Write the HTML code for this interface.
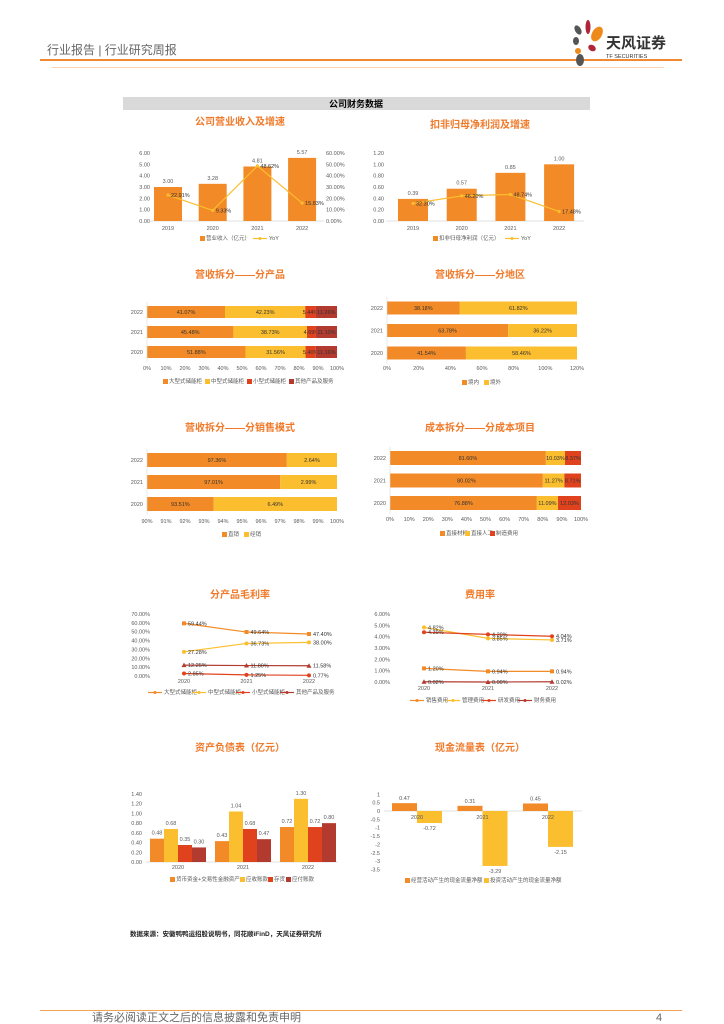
<!DOCTYPE html>
<html><head><meta charset="utf-8"><style>
html,body{margin:0;padding:0;background:#fff;}
svg{display:block;font-family:"Liberation Sans","Noto Sans CJK SC",sans-serif;}
</style></head><body>
<svg id="page" width="724" height="1024" viewBox="0 0 724 1024" xmlns="http://www.w3.org/2000/svg">
<g>
<text x="47" y="54" font-size="12" fill="#666">行业报告 | 行业研究周报</text>
<rect x="40" y="59" width="642" height="2" fill="#F08A30"/>
<rect x="52" y="67" width="612" height="0.8" fill="#FBC89A"/>
<g>
<ellipse cx="578" cy="30" rx="3" ry="5" fill="#555" transform="rotate(-30 578 30)"/>
<ellipse cx="588" cy="27" rx="2.5" ry="7" fill="#B0243A"/>
<ellipse cx="597" cy="34" rx="5" ry="8" fill="#EE8A1A" transform="rotate(30 597 34)"/>
<ellipse cx="576" cy="41" rx="3" ry="4" fill="#555"/>
<ellipse cx="578" cy="51" rx="3" ry="3" fill="#EE8A1A"/>
<ellipse cx="592" cy="48" rx="4" ry="3" fill="#B0243A" transform="rotate(30 592 48)"/>
<ellipse cx="580" cy="60" rx="4" ry="6" fill="#555"/>
<text x="606" y="48" font-size="15" font-weight="bold" fill="#333">天风证券</text>
<text x="606" y="58" font-size="5.5" fill="#333">TF SECURITIES</text>
</g></g>
<rect x="123" y="97" width="467" height="13" fill="#D9D9D9"/>
<text x="356" y="107" font-size="9" font-weight="bold" text-anchor="middle" fill="#000">公司财务数据</text>
<text x="130" y="936" font-size="6.5" font-weight="bold" fill="#222">数据来源：安徽鸭鸭运招股说明书，同花顺iFinD，天风证券研究所</text>
<rect x="40" y="1010" width="642" height="0.8" fill="#F08A30"/>
<text x="92" y="1021" font-size="11" fill="#666">请务必阅读正文之后的信息披露和免责申明</text>
<text x="656" y="1021" font-size="11" fill="#666">4</text>
</svg>
<script>
// ---- data ----
const revYears=['2019','2020','2021','2022'];
const revValues=[3.00,3.28,4.81,5.57];
const revYoy=[22.91,9.33,48.62,15.83];
const revTicksL=[0,1,2,3,4,5,6];
const revTicksR=[0,10,20,30,40,50,60];
const profYears=['2019','2020','2021','2022'];
const profValues=[0.39,0.57,0.85,1.00];
const profYoy=[32.30,46.20,48.74,17.48];
const profTicks=[0,0.2,0.4,0.6,0.8,1.0,1.2];
const prodYears=['2022','2021','2020'];
const prodA=[41.07,45.48,51.88];
const prodB=[42.23,38.73,31.56];
const prodC=[5.44,4.69,5.40];
const prodD=[11.26,11.10,11.16];
const prodNames=['大型式储能柜','中型式储能柜','小型式储能柜','其他产品及服务'];
const pctTicks10=['0%','10%','20%','30%','40%','50%','60%','70%','80%','90%','100%'];
const regYears=['2022','2021','2020'];
const regDom=[38.18,63.78,41.54];
const regFor=[61.82,36.22,58.46];
const regTicks=['0%','20%','40%','60%','80%','100%','120%'];
const saleYears=['2022','2021','2020'];
const saleDirect=[97.36,97.01,93.51];
const saleDealer=[2.64,2.99,6.49];
const saleTicks=['90%','91%','92%','93%','94%','95%','96%','97%','98%','99%','100%'];
const costYears=['2022','2021','2020'];
const costMat=[81.60,80.02,76.88];
const costLab=[10.03,11.27,11.09];
const costMfg=[8.37,8.71,12.03];
const gmYears=['2020','2021','2022'];
const gmA=[59.44,49.64,47.40];
const gmB=[27.28,36.73,38.00];
const gmC=[2.85,1.25,0.77];
const gmD=[12.25,11.80,11.58];
const gmTicks=[0,10,20,30,40,50,60,70];
const exYears=['2020','2021','2022'];
const exSell=[1.20,0.94,0.94];
const exAdm=[4.82,3.85,3.71];
const exRd=[4.39,4.20,4.04];
const exFin=[0.02,0.00,0.02];
const exTicks=[0,1,2,3,4,5,6];
const bsYears=['2020','2021','2022'];
const bsCash=[0.48,0.43,0.72];
const bsRec=[0.68,1.04,1.30];
const bsInv=[0.35,0.68,0.72];
const bsPay=[0.30,0.47,0.80];
const bsTicks=[0,0.2,0.4,0.6,0.8,1.0,1.2,1.4];
const cfYears=['2020','2021','2022'];
const cfOp=[0.47,0.31,0.45];
const cfInv=[-0.72,-3.29,-2.15];
const cfTicks=[1,0.5,0,-0.5,-1,-1.5,-2,-2.5,-3,-3.5];

const NS='http://www.w3.org/2000/svg';
const svg=document.getElementById('page');
const OR='#F28A27',YE='#FBBE2E',RE='#E0421E',DR='#B33A2E',TC='#F07A2A';
function mk(tag,attrs,name){
  const e=document.createElementNS(NS,tag);
  for(const k in attrs) e.setAttribute(k,attrs[k]);
  
  
  svg.appendChild(e);return e;
}
function T(x,y,s,name,size,anchor,fill,weight){
  const e=mk('text',{x:x,y:y,'font-size':size||5.5,'text-anchor':anchor||'middle',fill:fill||'#595959','font-weight':weight||'normal'},name);
  e.textContent=s;return e;
}
function title(x,y,s,name){T(x,y,s,name,10,'middle',TC,'bold');}
function legRect(x,y,c,s,name){mk('rect',{x:x,y:y-4,width:5,height:5,fill:c},name+'-swatch');T(x+6,y,s,name,5.5,'start');}
function legLine(x,y,c,s,name){mk('line',{x1:x,y1:y-1.5,x2:x+14,y2:y-1.5,stroke:c,'stroke-width':1.2},name+'-line');mk('circle',{cx:x+7,cy:y-1.5,r:1.5,fill:c},name+'-marker');T(x+16,y,s,name,5.5,'start');}

// ---- chart 1 revenue ----
title(240,125,'公司营业收入及增速','revenue-chart-title');
const x1=i=>168+i*44.7, y1=v=>221-v/6*68, y1r=p=>221-p/60*68;
revTicksL.forEach(v=>T(150,y1(v)+2,v.toFixed(2),'revenue-y-tick',5.5,'end'));
revTicksR.forEach(p=>T(326,y1r(p)+2,p.toFixed(2)+'%','revenue-y2-tick',5.5,'start'));
mk('line',{x1:148,x2:324,y1:221,y2:221,stroke:'#d9d9d9','stroke-width':0.8},'revenue-x-axis');
revValues.forEach((v,i)=>{mk('rect',{x:x1(i)-14,y:y1(v),width:28,height:221-y1(v),fill:OR},'revenue-bar');T(x1(i),y1(v)-4,v.toFixed(2),'revenue-bar-label');T(x1(i),230,revYears[i],'revenue-x-tick');});
mk('polyline',{points:revYoy.map((p,i)=>x1(i)+','+y1r(p)).join(' '),fill:'none',stroke:YE,'stroke-width':1.2},'revenue-yoy-line');
revYoy.forEach((p,i)=>{mk('circle',{cx:x1(i),cy:y1r(p),r:1.6,fill:YE},'revenue-yoy-point');T(x1(i)+3,y1r(p)+2,p.toFixed(2)+'%','revenue-yoy-label',5.5,'start','#333');});
legRect(200,240,OR,'营业收入（亿元）','revenue-legend-bar');legLine(253,240,YE,'YoY','revenue-legend-yoy');

// ---- chart 2 profit ----
title(480,128,'扣非归母净利润及增速','profit-chart-title');
const x2=i=>413+i*48.7, y2=v=>221-v/1.2*68, y2r=p=>221-p/125*68;
profTicks.forEach(v=>T(384,y2(v)+2,v.toFixed(2),'profit-y-tick',5.5,'end'));
mk('line',{x1:386,x2:584,y1:221,y2:221,stroke:'#d9d9d9','stroke-width':0.8},'profit-x-axis');
profValues.forEach((v,i)=>{mk('rect',{x:x2(i)-15,y:y2(v),width:30,height:221-y2(v),fill:OR},'profit-bar');T(x2(i),y2(v)-4,v.toFixed(2),'profit-bar-label');T(x2(i),230,profYears[i],'profit-x-tick');});
mk('polyline',{points:profYoy.map((p,i)=>x2(i)+','+y2r(p)).join(' '),fill:'none',stroke:YE,'stroke-width':1.2},'profit-yoy-line');
profYoy.forEach((p,i)=>{mk('circle',{cx:x2(i),cy:y2r(p),r:1.6,fill:YE},'profit-yoy-point');T(x2(i)+3,y2r(p)+2,p.toFixed(2)+'%','profit-yoy-label',5.5,'start','#333');});
legRect(433,240,OR,'扣非归母净利润（亿元）','profit-legend-bar');legLine(505,240,YE,'YoY','profit-legend-yoy');

// ---- stacked helper ----
function stacked(x0,x1,lo,hi,top,gap,h,years,series,colors,prefix,ticks,tickY){
  const sx=v=>x0+(v-lo)/(hi-lo)*(x1-x0);
  years.forEach((yr,r)=>{
    const cy=top+r*gap;let base=0;
    series.forEach((s,k)=>{
      const v=s[r];const a=base,b=base+v;base+=v;
      const xa=sx(Math.max(a,lo)),xb=sx(Math.min(b,hi));
      if(xb<=xa)return;
      mk('rect',{x:xa,y:cy-h/2,width:xb-xa,height:h,fill:colors[k]},prefix+'-segment');
      T((xa+xb)/2,cy+2,v.toFixed(2)+'%',prefix+'-segment-label',5.5,'middle','#333');
    });
    T(x0-4,cy+2,yr,prefix+'-y-tick',5.5,'end');
  });
  ticks.forEach((t,i)=>T(x0+i*(x1-x0)/(ticks.length-1),tickY,t,prefix+'-x-tick'));
  mk('line',{x1:x0,x2:x0,y1:top-gap/2,y2:top+gap*(years.length-0.5),stroke:'#d9d9d9','stroke-width':0.6},prefix+'-y-axis');
}
title(240,278,'营收拆分——分产品','product-chart-title');
stacked(147,337,0,100,312,20,12,prodYears,[prodA,prodB,prodC,prodD],[OR,YE,RE,DR],'product',pctTicks10,370);
[OR,YE,RE,DR].forEach((c,k)=>legRect(163+k*42,383,c,prodNames[k],'product-legend-'+k));
title(480,278,'营收拆分——分地区','region-chart-title');
stacked(387,577,0,100,308,22.5,13,regYears,[regDom,regFor],[OR,YE],'region',regTicks,370);
legRect(462,384,OR,'境内','region-legend-domestic');legRect(484,384,YE,'境外','region-legend-foreign');
title(240,431,'营收拆分——分销售模式','sales-chart-title');
stacked(147,337,90,100,460,22,14,saleYears,[saleDirect,saleDealer],[OR,YE],'sales',saleTicks,523);
legRect(222,536,OR,'直销','sales-legend-direct');legRect(244,536,YE,'经销','sales-legend-dealer');
title(480,431,'成本拆分——分成本项目','cost-chart-title');
stacked(390,581,0,100,458,22.5,14,costYears,[costMat,costLab,costMfg],[OR,YE,RE],'cost',pctTicks10,521);
legRect(440,535,OR,'直接材料','cost-legend-material');legRect(465,535,YE,'直接人工','cost-legend-labor');legRect(490,535,RE,'制造费用','cost-legend-mfg');

// ---- line helper ----
function lines(xf,yf,years,series,colors,shapes,prefix,labelX){
  series.forEach((s,k)=>{
    mk('polyline',{points:s.map((v,i)=>xf(i)+','+yf(v)).join(' '),fill:'none',stroke:colors[k],'stroke-width':1.2},prefix+'-line-'+k);
    s.forEach((v,i)=>{
      const x=xf(i),y=yf(v);
      if(shapes[k]==='sq')mk('rect',{x:x-2,y:y-2,width:4,height:4,fill:colors[k]},prefix+'-point');
      else if(shapes[k]==='tri')mk('polygon',{points:(x)+','+(y-2.5)+' '+(x-2.5)+','+(y+2)+' '+(x+2.5)+','+(y+2),fill:colors[k]},prefix+'-point');
      else mk('circle',{cx:x,cy:y,r:2,fill:colors[k]},prefix+'-point');
      T(x+4,y+2,v.toFixed(2)+'%',prefix+'-label',5.5,'start','#333');
    });
  });
  years.forEach((yr,i)=>T(xf(i),labelX,yr,prefix+'-x-tick'));
}
title(240,598,'分产品毛利率','margin-chart-title');
const x7=i=>184+i*62.5, y7=v=>676-v/70*62;
gmTicks.forEach(v=>T(150,y7(v)+2,v.toFixed(2)+'%','margin-y-tick',5.5,'end'));
lines(x7,y7,gmYears,[gmA,gmB,gmC,gmD],[OR,YE,RE,DR],['sq','dia','ci','tri'],'margin',683);
[OR,YE,RE,DR].forEach((c,k)=>legLine(148+k*44,694,c,prodNames[k],'margin-legend-'+k));
title(480,598,'费用率','expense-chart-title');
const x8=i=>424+i*64, y8=v=>682-v/6*68;
exTicks.forEach(v=>T(390,y8(v)+2,v.toFixed(2)+'%','expense-y-tick',5.5,'end'));
lines(x8,y8,exYears,[exSell,exAdm,exRd,exFin],[OR,YE,RE,DR],['sq','dia','ci','tri'],'expense',690);
['销售费用','管理费用','研发费用','财务费用'].forEach((s,k)=>legLine(410+k*36,702,[OR,YE,RE,DR][k],s,'expense-legend-'+k));

// ---- balance sheet ----
title(240,751,'资产负债表（亿元）','balance-chart-title');
const x9=i=>178+i*65, y9=v=>862-v/1.4*68;
bsTicks.forEach(v=>T(142,y9(v)+2,v.toFixed(2),'balance-y-tick',5.5,'end'));
mk('line',{x1:146,x2:338,y1:862,y2:862,stroke:'#d9d9d9','stroke-width':0.8},'balance-x-axis');
[bsCash,bsRec,bsInv,bsPay].forEach((s,k)=>s.forEach((v,i)=>{
  const bx=x9(i)+(k-2)*14;
  mk('rect',{x:bx,y:y9(v),width:14,height:862-y9(v),fill:[OR,YE,RE,DR][k]},'balance-bar');
  T(bx+7,y9(v)-4,v.toFixed(2),'balance-bar-label');
}));
bsYears.forEach((yr,i)=>T(x9(i),869,yr,'balance-x-tick'));
['货币资金+交易性金融资产','应收账款','存货','应付账款'].forEach((s,k)=>legRect([170,240,268,286][k],881,[OR,YE,RE,DR][k],s,'balance-legend-'+k));

// ---- cash flow ----
title(480,751,'现金流量表（亿元）','cashflow-chart-title');
const x10=i=>417+i*65.5, y10=v=>811-v*16.7;
cfTicks.forEach(v=>T(380,y10(v)+2,String(v),'cashflow-y-tick',5.5,'end'));
mk('line',{x1:384,x2:582,y1:811,y2:811,stroke:'#d9d9d9','stroke-width':0.8},'cashflow-zero-line');
cfOp.forEach((v,i)=>{mk('rect',{x:x10(i)-25,y:y10(v),width:25,height:811-y10(v),fill:OR},'cashflow-op-bar');T(x10(i)-12.5,y10(v)-3,v.toFixed(2),'cashflow-op-label');});
cfInv.forEach((v,i)=>{mk('rect',{x:x10(i),y:811,width:25,height:y10(v)-811,fill:YE},'cashflow-inv-bar');T(x10(i)+12.5,y10(v)+7,v.toFixed(2),'cashflow-inv-label');});
cfYears.forEach((yr,i)=>T(x10(i),819,yr,'cashflow-x-tick'));
legRect(405,882,OR,'经营活动产生的现金流量净额','cashflow-legend-op');legRect(484,882,YE,'投资活动产生的现金流量净额','cashflow-legend-inv');
</script>
</body></html>
